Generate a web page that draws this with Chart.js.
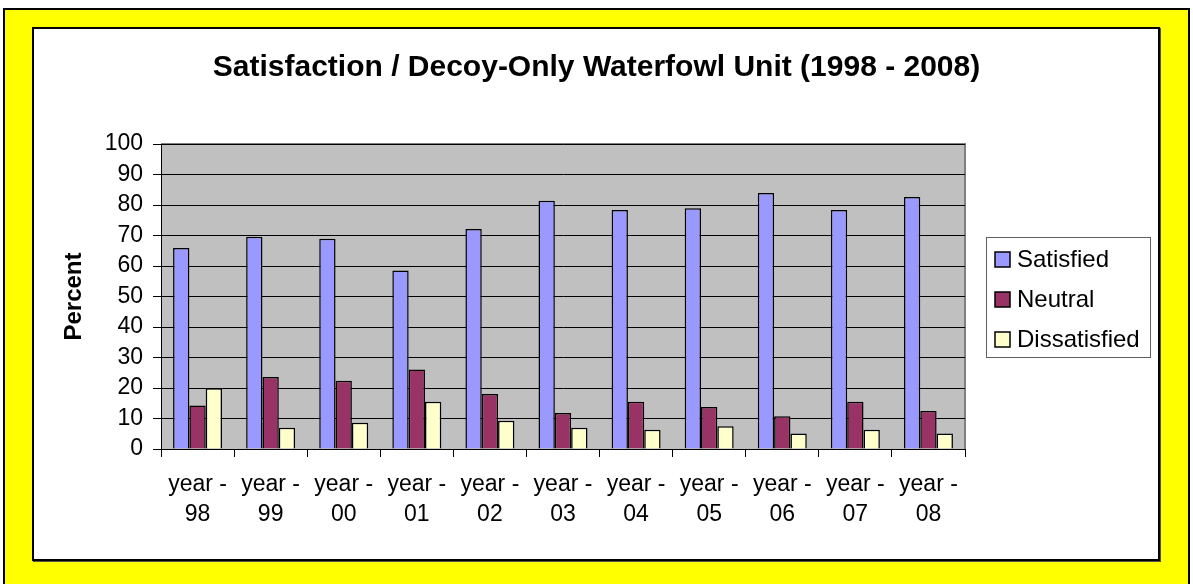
<!DOCTYPE html>
<html>
<head>
<meta charset="utf-8">
<script src="https://cdn.jsdelivr.net/npm/chart.js@4.4.1/dist/chart.umd.min.js"></script>
<style>
  html, body { margin: 0; padding: 0; background: #fff; }
  body { width: 1193px; height: 584px; position: relative; overflow: hidden; }
  #outer { position: absolute; left: 3px; top: 8px; right: 3px; bottom: -10px; background: #ffff00;
           border: 2px solid #000; }
  #inner { position: absolute; left: 32px; top: 27px; width: 1124px; height: 530px; background: #fff;
           border: 2px solid #000; box-shadow: 1px 1px 0 #555; }
  #wrap { position: absolute; left: 0; top: 0; width: 1193px; height: 584px; }
</style>
</head>
<body>
<div id="outer"></div>
<div id="inner"></div>
<div id="wrap"><canvas id="chart" width="1193" height="584"></canvas></div>
<script>
const years = ["98", "99", "00", "01", "02", "03", "04", "05", "06", "07", "08"];
const satisfied = [65.9, 69.6, 68.9, 58.5, 72.1, 81.4, 78.4, 78.9, 83.9, 78.4, 82.6];
const neutral = [14.3, 23.6, 22.4, 26.1, 18.0, 11.8, 15.5, 13.8, 10.7, 15.5, 12.5];
const dissatisfied = [19.9, 7.0, 8.6, 15.5, 9.3, 7.0, 6.3, 7.5, 5.1, 6.3, 5.1];
const yTicks = [0, 10, 20, 30, 40, 50, 60, 70, 80, 90, 100];

const labels = years.map((y) => ["year -", y]);
const FONT = "'Liberation Sans', Arial, sans-serif";

// gray plot area with its border
const plotBg = {
  id: "plotBg",
  beforeDraw(chart) {
    const { ctx, chartArea: a } = chart;
    ctx.save();
    ctx.fillStyle = "#c0c0c0";
    ctx.fillRect(a.left, a.top, a.right - a.left, a.bottom - a.top);
    ctx.strokeStyle = "#808080";
    ctx.lineWidth = 2;
    ctx.beginPath();
    ctx.moveTo(a.left, a.top);
    ctx.lineTo(a.right, a.top);
    ctx.lineTo(a.right, a.bottom);
    ctx.stroke();
    ctx.restore();
  },
};

// boxed legend on the right
const boxLegend = {
  id: "boxLegend",
  afterDraw(chart) {
    const { ctx } = chart;
    ctx.save();
    ctx.strokeStyle = "#606060";
    ctx.lineWidth = 1;
    ctx.strokeRect(986.5, 237.5, 164, 120);
    ctx.font = "24px " + FONT;
    ctx.textBaseline = "middle";
    chart.data.datasets.forEach((ds, i) => {
      const cy = 259 + i * 40;
      ctx.fillStyle = ds.backgroundColor;
      ctx.fillRect(995, cy - 7, 15, 15);
      ctx.strokeStyle = "#000";
      ctx.lineWidth = 1.5;
      ctx.strokeRect(995, cy - 7, 15, 15);
      ctx.fillStyle = "#000";
      ctx.fillText(ds.label, 1017, cy + 1);
    });
    ctx.restore();
  },
};

new Chart(document.getElementById("chart"), {
  type: "bar",
  data: {
    labels: labels,
    datasets: [
      { label: "Satisfied", data: satisfied, backgroundColor: "#9999ff" },
      { label: "Neutral", data: neutral, backgroundColor: "#993366" },
      { label: "Dissatisfied", data: dissatisfied, backgroundColor: "#ffffcc" },
    ],
  },
  options: {
    responsive: false,
    animation: false,
    layout: { padding: 0 },
    datasets: {
      bar: {
        borderColor: "#000",
        borderWidth: 1.5,
        categoryPercentage: 0.67,
        barPercentage: 1,
      },
    },
    plugins: {
      legend: { display: false },
      tooltip: { enabled: false },
      title: {
        display: true,
        text: "Satisfaction / Decoy-Only Waterfowl Unit (1998 - 2008)",
        color: "#000",
        font: { family: FONT, size: 30, weight: "bold", lineHeight: 1.2 },
        padding: { top: 50, bottom: 58 },
      },
    },
    scales: {
      x: {
        offset: true,
        grid: { display: true, drawOnChartArea: false, tickLength: 8, tickColor: "#000" },
        border: { display: true, color: "#000", width: 1 },
        ticks: {
          color: "#000",
          padding: 13,
          maxRotation: 0,
          autoSkip: false,
          font: { family: FONT, size: 23, lineHeight: 1.3 },
        },
        afterFit(scale) { scale.height = 135; },
      },
      y: {
        min: 0,
        max: 100,
        afterBuildTicks(scale) { scale.ticks = yTicks.map((v) => ({ value: v })); },
        grid: { color: "#000", lineWidth: 1, tickLength: 8, tickColor: "#000" },
        border: { display: true, color: "#000", width: 1 },
        ticks: { color: "#000", padding: 10, autoSkip: false, font: { family: FONT, size: 23 } },
        title: {
          display: true,
          text: "Percent",
          color: "#000",
          font: { family: FONT, size: 24, weight: "bold", lineHeight: 1.2 },
          padding: { top: 60, bottom: 0 },
        },
        afterFit(scale) { scale.width = 161; },
      },
      y2: {
        position: "right",
        min: 0,
        max: 100,
        grid: { display: false },
        border: { display: false },
        ticks: { display: false },
        afterFit(scale) { scale.width = 228; },
      },
    },
  },
  plugins: [plotBg, boxLegend],
});
</script>
</body>
</html>
